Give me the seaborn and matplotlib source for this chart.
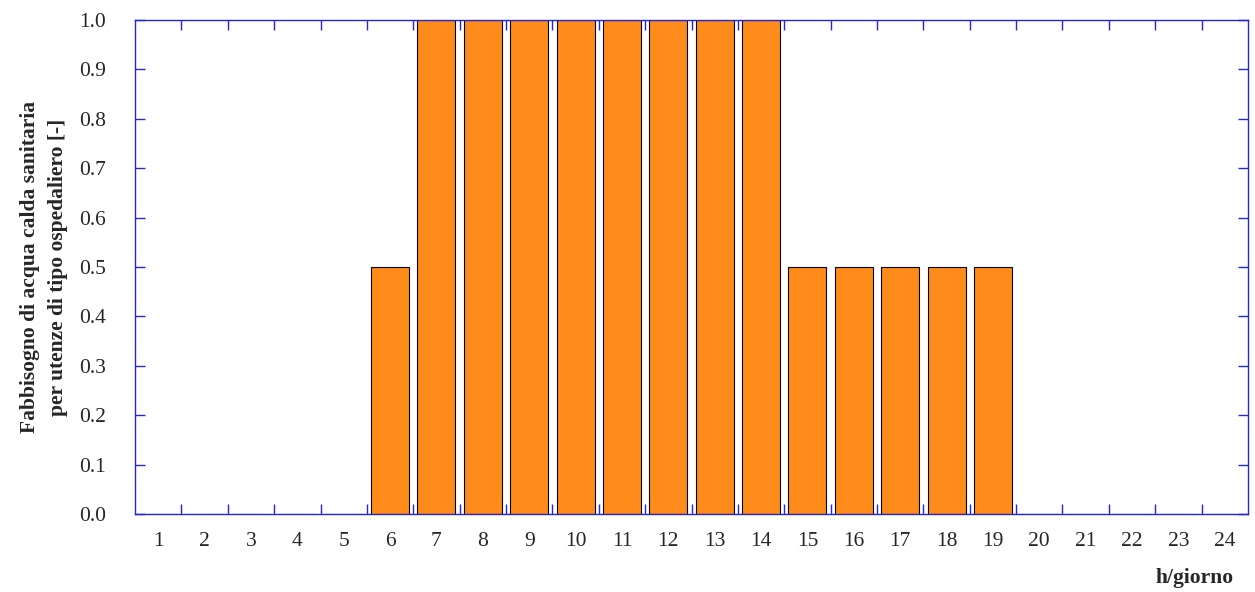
import matplotlib
matplotlib.use('Agg')
import matplotlib.pyplot as plt
import numpy
import pandas
import seaborn

# Hourly hot water demand profile (hospital type users)
hours = [str(h) for h in range(1, 25)]
demand = [0.0, 0.0, 0.0, 0.0, 0.0, 0.5, 1.0, 1.0, 1.0, 1.0, 1.0, 1.0,
          1.0, 1.0, 0.5, 0.5, 0.5, 0.5, 0.5, 0.0, 0.0, 0.0, 0.0, 0.0]
y_ticks = [round(0.1 * i, 1) for i in range(11)]

data = pandas.DataFrame({'Ora': hours, 'Fabbisogno': demand})

seaborn.set_style('white')
plt.rcParams['font.family'] = ['Liberation Serif', 'DejaVu Serif']

frame_color = '#2626d4'

fig = plt.figure(figsize = (12.55, 5.92), dpi = 100)
ax = fig.add_axes([0.1076, 0.1318, 0.8868, 0.8344])
ax.set_axisbelow(True)

seaborn.barplot(data = data, x = 'Ora', y = 'Fabbisogno', color = '#ff8c1a', saturation = 1,
                width = 0.82, edgecolor = 'black', linewidth = 0.8, ax = ax)

ax.set_xlim(-0.5, 23.5)
ax.set_ylim(0, 1.0)
ax.set_yticks(y_ticks)
ax.set_yticklabels(['%.1f' % v for v in y_ticks])
ax.set_xticks(numpy.arange(24))
ax.set_xticklabels(hours)
ax.set_xticks(numpy.arange(0.5, 23.5, 1.0), minor = True)

ax.tick_params(axis = 'x', which = 'major', length = 0, pad = 13, labelsize = 15.5)
ax.tick_params(axis = 'x', which = 'minor', direction = 'in', length = 7, width = 1,
               color = frame_color, top = True, bottom = True)
ax.tick_params(axis = 'y', which = 'major', direction = 'in', length = 7, width = 1,
               color = frame_color, left = True, right = True, pad = 21, labelsize = 15.5)

for s in ax.spines.values():
    s.set_color(frame_color)
    s.set_linewidth(1.0)

ax.set_xlabel('')
ax.set_ylabel('')

fig.text(0.035, 0.549, 'Fabbisogno di acqua calda sanitaria\nper utenze di tipo ospedaliero [-]',
         rotation = 90, ha = 'center', va = 'center', multialignment = 'center',
         fontsize = 15.5, fontweight = 'bold', linespacing = 1.55)
fig.text(0.983, 0.024, 'h/giorno', ha = 'right', va = 'center', fontsize = 15.5, fontweight = 'bold')

fig.savefig('out.png', dpi = 100)
